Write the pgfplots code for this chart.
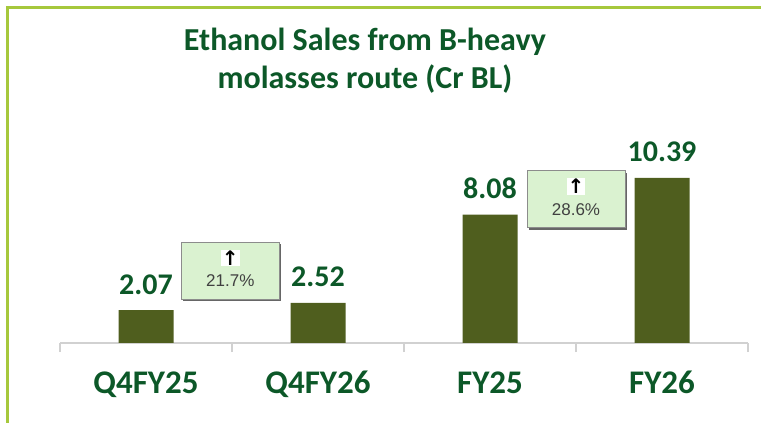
\documentclass[border=0pt]{standalone}
\usepackage{pgfplots}
\pgfplotsset{compat=1.18}
\usepackage{fontspec}
\setmainfont{Carlito}
\newfontfamily\arialf{Liberation Sans}
\newfontfamily\dejavu{DejaVu Sans}
\definecolor{tgreen}{RGB}{12,88,40}
\definecolor{barc}{RGB}{79,94,30}
\definecolor{framec}{RGB}{166,200,60}
\definecolor{boxfill}{RGB}{218,242,208}
\begin{document}
\begin{tikzpicture}[x=1pt,y=1pt]
\path[use as bounding box] (0,0) rectangle (761,423);
\fill[framec] (6,414) rectangle (761,417);
\fill[framec] (6,0) rectangle (9,417);
\node[font=\bfseries\fontsize{32}{38}\selectfont, text=tgreen, align=center] at (365,362) {Ethanol Sales from B-heavy\\molasses route (Cr BL)};
\begin{axis}[
  at={(60pt,80pt)}, anchor=south west,
  width=688pt, height=190.8pt, scale only axis,
  xmin=-0.5, xmax=3.5, ymin=0, ymax=12,
  axis y line=none, axis x line*=bottom,
  x axis line style={draw=black!18, line width=1.2pt, -},
  xtick={0,1,2,3},
  xticklabels={Q4FY25,Q4FY26,FY25,FY26},
  major tick length=0pt,
  extra x ticks={-0.5,0.5,1.5,2.5,3.5},
  extra x tick labels={},
  extra x tick style={major tick length=9pt, tick align=outside, tick style={draw=black!18, line width=1.2pt}},
  xticklabel style={font=\bfseries\fontsize{33}{33}\selectfont, text=tgreen, anchor=base, yshift=-51pt},
  ybar, bar width=55pt,
  nodes near coords,
  /pgf/number format/assume math mode=true,
  /pgf/number format/fixed, /pgf/number format/precision=2, /pgf/number format/fixed zerofill,
  every node near coord/.append style={font=\bfseries\fontsize{30}{30}\selectfont, text=tgreen, anchor=base, yshift=16pt},
  clip=false,
]
\addplot[fill=barc, draw=none] coordinates {(0,2.07) (1,2.52) (2,8.08) (3,10.39)};
\coordinate (b1) at (axis cs:0.49,4.53);
\coordinate (b2) at (axis cs:2.5,9.03);
\end{axis}
\foreach \c/\t in {b1/21.7, b2/28.6}{
  \node[fill=black!60, minimum width=98pt, minimum height=57pt, inner sep=0pt] at ([shift={(2pt,-2pt)}]\c) {};
  \node[fill=boxfill, draw=black!45, line width=1pt, minimum width=98pt, minimum height=57pt, inner sep=0pt] (B) at (\c) {};
  \node[fill=white, inner sep=1pt, font=\dejavu\bfseries\fontsize{20}{20}\selectfont] at ([yshift=-16pt]B.north) {↑};
  \node[font=\arialf\fontsize{17}{17}\selectfont, text=black!75] at ([yshift=-39pt]B.north) {\t\%};
}
\end{tikzpicture}
\end{document}
